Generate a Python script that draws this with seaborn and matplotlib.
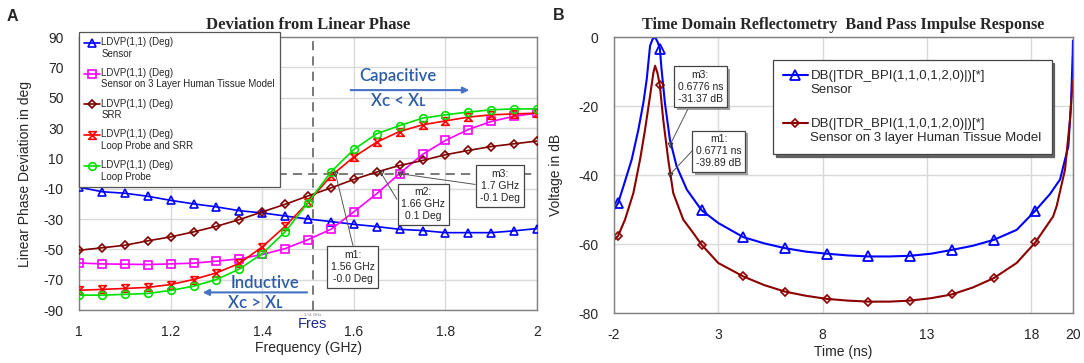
import matplotlib
matplotlib.use("Agg")
import matplotlib.pyplot as plt
import matplotlib.patheffects as pe
from matplotlib.lines import Line2D
from matplotlib.legend_handler import HandlerLine2D
import numpy as np
import pandas as pd
import seaborn as sns

# ---- panel A: deviation from linear phase ----
freq = [1.0, 1.05, 1.1, 1.15, 1.2, 1.25, 1.3, 1.35, 1.4, 1.45, 1.5,
        1.55, 1.6, 1.65, 1.7, 1.75, 1.8, 1.85, 1.9, 1.95, 2.0]
ldvp_sensor = [-9, -12, -13, -15, -17.7, -20, -22, -24.5, -26, -28, -30,
               -31.7, -33.5, -35, -36.8, -37.6, -39, -39, -39, -37.8, -36.3]
ldvp_tissue = [-59, -59.6, -59.8, -60, -59.6, -59.1, -57.8, -56.3, -53.4, -49.5, -43.6,
               -36.8, -25.3, -13.3, 0, 12.6, 21.8, 29, 34.3, 37.8, 39.8]
ldvp_srr = [-50.6, -49, -47.3, -44.4, -41.8, -38.5, -34.8, -30.4, -25.3, -20.3, -14.8,
            -9.5, -3.9, 1, 5.3, 8.6, 12.4, 15.2, 17.8, 19.6, 21.4]
ldvp_loop_srr = [-77, -76.4, -75.8, -75.1, -73.2, -69.9, -65.5, -59.3, -48.4, -34.8, -19,
                 -1.6, 10.9, 20.7, 27.7, 32.1, 34.7, 37.2, 38.7, 39.3, 39.8]
ldvp_loop = [-80.2, -80.2, -79.7, -79.1, -77.1, -74.3, -69.9, -63, -52.8, -38.5, -19.2,
             1, 15.9, 26.2, 31.6, 36.5, 38.7, 40.5, 42, 42.6, 42.6]
phase_labels = ["LDVP(1,1) (Deg)\nSensor",
                "LDVP(1,1) (Deg)\nSensor on 3 Layer Human Tissue Model",
                "LDVP(1,1) (Deg)\nSRR",
                "LDVP(1,1) (Deg)\nLoop Probe and SRR",
                "LDVP(1,1) (Deg)\nLoop Probe"]
f_res = 1.51
phase_markers = [("m1", 1.56, 0.0, "1.56 GHz", "-0.0 Deg"),
                 ("m2", 1.66, 0.1, "1.66 GHz", "0.1 Deg"),
                 ("m3", 1.70, -0.1, "1.7 GHz", "-0.1 Deg")]

# ---- panel B: TDR band pass impulse response ----
sensor_t = [-2.0, -1.8, -1.55, -1.15, -0.83, -0.59, -0.43, -0.27, -0.15, -0.03,
            0.1, 0.2, 0.28, 0.44, 0.68, 1.0, 1.49, 2.2, 3.0, 4.2,
            5.2, 6.2, 7.2, 8.2, 9.2, 10.2, 11.2, 12.2, 13.2, 14.2,
            15.2, 16.2, 17.3, 18.2, 18.9, 19.38, 19.78, 19.91, 19.99, 20.0]
sensor_db = [-50, -48.1, -43.3, -35.5, -26.8, -19, -12.2, -2.5, -0.6, 0,
             -1.5, -3.3, -9.3, -19, -29.7, -37.4, -44.2, -50.2, -53.9, -58,
             -59.8, -61.2, -62.2, -62.8, -63.3, -63.6, -63.6, -63.4, -62.8, -61.7,
             -60.5, -58.8, -55.9, -50.3, -45.5, -41.3, -31.6, -19, -4.5, -1]
tissue_t = [-2.0, -1.8, -1.47, -1.07, -0.75, -0.51, -0.27, -0.11, -0.03, 0.08,
            0.2, 0.36, 0.6, 0.84, 1.32, 1.8, 2.2, 3.0, 4.2, 5.2,
            6.2, 7.2, 8.2, 9.2, 10.2, 11.2, 12.2, 13.2, 14.2, 15.2,
            16.2, 17.3, 18.2, 19.05, 19.22, 19.62, 19.86, 19.97, 20.0]
tissue_db = [-58.8, -57.6, -52.9, -45.2, -35.5, -26.8, -17, -10.3, -8.3, -10.3,
             -14, -23.9, -35.5, -45.2, -52.9, -56.8, -60.2, -65.5, -69.4, -71.9,
             -73.8, -75.0, -75.9, -76.4, -76.7, -76.7, -76.4, -75.7, -74.6, -72.6,
             -69.9, -65.5, -59.5, -52, -49, -38.4, -23.9, -14.2, -12.5]
symbol_t = [-1.8, 0.2, 2.2, 4.2, 6.2, 8.2, 10.2, 12.2, 14.2, 16.2, 18.2]
tdr_labels = ["DB(|TDR_BPI(1,1,0,1,2,0)|)[*]\nSensor",
              "DB(|TDR_BPI(1,1,0,1,2,0)|)[*]\nSensor on 3 layer Human Tissue Model"]
tdr_markers = [("m3", 0.6776, -31.37, "0.6776 ns", "-31.37 dB"),
               ("m1", 0.6771, -39.89, "0.6771 ns", "-39.89 dB")]


class TopLineHandler(HandlerLine2D):
    # put the legend symbol next to the first line of a two-line label
    def create_artists(self, legend, orig_handle, xdescent, ydescent, width, height,
                       fontsize, trans):
        return super().create_artists(legend, orig_handle, xdescent,
                                      ydescent - 1.15 * fontsize, width, height,
                                      fontsize, trans)


sns.set_theme(style="white")
plt.rcParams["font.family"] = ["Liberation Sans", "DejaVu Sans"]
plt.rcParams["axes.unicode_minus"] = False

fig = plt.figure(figsize=(10.84, 3.63), dpi=100)
axA = fig.add_axes([0.0729, 0.146, 0.4225, 0.752])
axB = fig.add_axes([0.5664, 0.1377, 0.4234, 0.760])

hourglass = [(-1, 1), (1, 1), (-1, -1), (1, -1), (-1, 1)]
styles = [("#0000FF", "^", 5.5), ("#FF00FF", "s", 5.5), ("#800000", "D", 3.6),
          ("#FF0000", hourglass, 5.5), ("#00E000", "o", 5.5)]
series = [ldvp_sensor, ldvp_tissue, ldvp_srr, ldvp_loop_srr, ldvp_loop]
for vals, (c, m, ms), lab in zip(series, styles, phase_labels):
    sns.lineplot(x=freq, y=vals, ax=axA, color=c, lw=1.2, marker=m, markersize=ms,
                 markerfacecolor="none", markeredgecolor=c, markeredgewidth=1.2,
                 label=lab, sort=False, zorder=3)

axA.axvline(f_res, color="#555555", lw=1.1, dashes=(6, 4), zorder=2)
axA.axhline(0, color="#555555", lw=1.1, dashes=(6, 4), zorder=2)

axA.set_xlim(1, 2)
axA.set_ylim(-90, 90)
axA.set_xticks([1, 1.2, 1.4, 1.6, 1.8, 2])
axA.set_xticklabels(["1", "1.2", "1.4", "1.6", "1.8", "2"])
axA.set_yticks(list(range(-90, 91, 20)))
axA.set_title("Deviation from Linear Phase", family="Liberation Serif",
              fontweight="bold", fontsize=12, pad=6)
axA.set_xlabel("Frequency (GHz)", fontsize=10)
axA.set_ylabel("Linear Phase Deviation in deg", fontsize=10)
axA.xaxis.set_label_coords(0.5, -0.115)
axA.yaxis.set_label_coords(-0.103, 0.5)

leg = axA.legend(loc="upper left", bbox_to_anchor=(0, 1.02), fontsize=7.0,
                 fancybox=False, edgecolor="#555555", framealpha=1, borderaxespad=0,
                 labelspacing=0.95, handlelength=1.6, handletextpad=0.15, borderpad=0.55,
                 handler_map={Line2D: TopLineHandler()})
leg.get_frame().set_linewidth(0.9)
leg.set_zorder(5)

# marker boxes (panel A)
boxA = {"m1": (1.598, -61.6, 1.598, -47.4), "m2": (1.752, -20.4, 1.694, -17),
        "m3": (1.919, -8.2, 1.865, -7.2)}
for name, fx, fy, l1, l2 in phase_markers:
    bx, by, lx, ly = boxA[name]
    axA.plot([fx, lx], [fy, ly], color="#555555", lw=0.7, zorder=4)
    axA.plot(fx, fy, marker="v", ms=3.5, mfc="none", mec="#333333", mew=0.7, zorder=4)
    axA.text(bx, by, f"{name}:\n{l1}\n{l2}", fontsize=7.5, ha="center", va="center",
             linespacing=1.25, color="#222222", zorder=6,
             bbox=dict(boxstyle="square,pad=0.35", fc="white", ec="#444444", lw=0.9))

blue_txt = "#2E5DA8"
txt_fonts = ["Lato", "DejaVu Sans"]
axA.text(1.697, 64.6, "Capacitive", color=blue_txt, fontsize=12, family=txt_fonts,
         fontweight="semibold", ha="center", va="center")
axA.annotate("", xy=(1.858, 55), xytext=(1.587, 55),
             arrowprops=dict(arrowstyle="-|>", color="#4472C4", lw=1.5, mutation_scale=9))
axA.text(1.697, 47.5, "X\u1d04 < X\u029f", color=blue_txt, fontsize=12, family=txt_fonts,
         fontweight="semibold", ha="center", va="center")
axA.text(1.406, -72.3, "Inductive", color=blue_txt, fontsize=12, family=txt_fonts,
         fontweight="semibold", ha="center", va="center")
axA.annotate("", xy=(1.264, -78.4), xytext=(1.504, -78.4),
             arrowprops=dict(arrowstyle="-|>", color="#4472C4", lw=1.5, mutation_scale=9))
axA.text(1.384, -85.5, "X\u1d04 > X\u029f", color=blue_txt, fontsize=12, family=txt_fonts,
         fontweight="semibold", ha="center", va="center")

trA = axA.get_xaxis_transform()
axA.text(f_res, -0.052, "Fres", transform=trA, color="#1F2A8A", fontsize=10.5,
         ha="center", va="center")
axA.text(f_res, -0.018, "1.51 GHz", transform=trA, color="#777777", fontsize=3,
         ha="center", va="center")

# ---- panel B ----
sensor_idx = [sensor_t.index(t) for t in symbol_t]
tissue_idx = [tissue_t.index(t) for t in symbol_t]
sns.lineplot(x=sensor_t, y=sensor_db, ax=axB, color="#0000FF", lw=1.5, marker="^",
             markersize=7, markerfacecolor="none", markeredgecolor="#0000FF",
             markeredgewidth=1.3, markevery=sensor_idx, label=tdr_labels[0], sort=False)
sns.lineplot(x=tissue_t, y=tissue_db, ax=axB, color="#8B0000", lw=1.5, marker="D",
             markersize=4.5, markerfacecolor="none", markeredgecolor="#8B0000",
             markeredgewidth=1.2, markevery=tissue_idx, label=tdr_labels[1], sort=False)

axB.set_xlim(-2, 20)
axB.set_ylim(-80, 0)
axB.set_xticks([-2, 3, 8, 13, 18, 20])
axB.set_yticks([0, -20, -40, -60, -80])
axB.set_title("Time Domain Reflectometry  Band Pass Impulse Response",
              family="Liberation Serif", fontweight="bold", fontsize=11.6, pad=6)
axB.set_xlabel("Time (ns)", fontsize=10)
axB.set_ylabel("Voltage in dB", fontsize=10)
axB.xaxis.set_label_coords(0.5, -0.117)
axB.yaxis.set_label_coords(-0.111, 0.5)

legB = axB.legend(loc="upper left", bbox_to_anchor=(0.346, 0.917), fontsize=9.5,
                  fancybox=False, edgecolor="#444444", framealpha=1, borderaxespad=0,
                  labelspacing=1.7, handlelength=1.9, handletextpad=0.2, borderpad=0.75,
                  shadow={"color": "#555555", "alpha": 0.9},
                  handler_map={Line2D: TopLineHandler()})
legB.get_frame().set_linewidth(0.9)

boxB = {"m3": (2.14, -14.4, 1.55, -20.8), "m1": (3.03, -33.1, 1.79, -32.7)}
for name, tx, ty, l1, l2 in tdr_markers:
    bx, by, lx, ly = boxB[name]
    axB.plot([tx, lx], [ty, ly], color="#555555", lw=0.7, zorder=4)
    axB.plot(tx, ty, marker="v", ms=3.5, mfc="none", mec="#333333", mew=0.7, zorder=4)
    t = axB.text(bx, by, f"{name}:\n{l1}\n{l2}", fontsize=7.5, ha="center", va="center",
                 linespacing=1.25, color="#222222", zorder=6,
                 bbox=dict(boxstyle="square,pad=0.35", fc="white", ec="#444444", lw=0.9))
    t.get_bbox_patch().set_path_effects([pe.withSimplePatchShadow(offset=(2, -2),
                                                                  shadow_rgbFace="#888888",
                                                                  alpha=0.8)])

for ax in (axA, axB):
    ax.grid(True, color="#d9d9d9", lw=1)
    ax.set_axisbelow(True)
    ax.tick_params(length=0, labelsize=10, pad=11)
    for s in ax.spines.values():
        s.set_color("#7f7f7f")
        s.set_linewidth(1.0)

fig.text(0.0065, 0.975, "A", fontsize=11.5, fontweight="bold", va="top")
fig.text(0.51, 0.978, "B", fontsize=11.5, fontweight="bold", va="top")

fig.savefig("out.png", dpi=100)
